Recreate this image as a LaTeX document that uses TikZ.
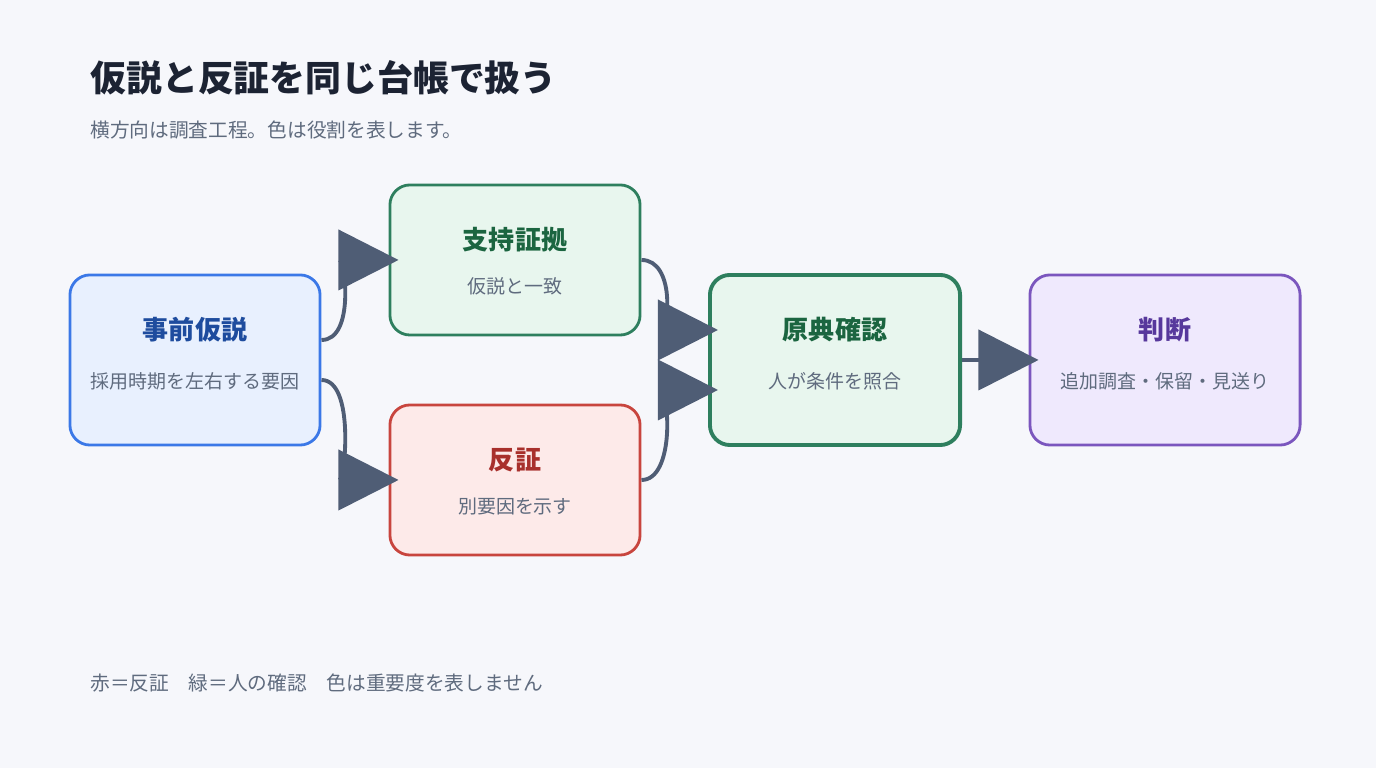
\documentclass[tikz,border=0pt]{standalone}
\usepackage{fontspec}
\setmainfont{Noto Sans CJK JP}
\usetikzlibrary{arrows.meta,positioning,calc}
\definecolor{bg}{HTML}{F6F7FB}
\definecolor{ink}{HTML}{1C2333}
\definecolor{muted}{HTML}{5F6B7E}
\definecolor{edge}{HTML}{4F5D75}
\definecolor{bluel}{HTML}{3B78E7}
\definecolor{bluef}{HTML}{E8F0FE}
\definecolor{bluet}{HTML}{1E4C9E}
\definecolor{greenl}{HTML}{2E7F5E}
\definecolor{greenf}{HTML}{E8F6EE}
\definecolor{greent}{HTML}{1B6540}
\definecolor{redl}{HTML}{C8453E}
\definecolor{redf}{HTML}{FDEAE9}
\definecolor{redt}{HTML}{A8302C}
\definecolor{purpl}{HTML}{7B56BE}
\definecolor{purpf}{HTML}{EFE9FD}
\definecolor{purpt}{HTML}{57389C}
\begin{document}
\begin{tikzpicture}[
    x=0.01cm, y=-0.01cm,
    box/.style={rectangle, rounded corners=0.2cm, line width=0.8pt, minimum width=2.5cm, minimum height=1.7cm, align=center, inner sep=0pt},
    head/.style={font=\fontsize{7.4}{9}\selectfont\bfseries},
    sub/.style={font=\fontsize{5.4}{7}\selectfont, text=muted},
    arrow/.style={-{Triangle[length=0.6cm, width=0.6cm]}, draw=edge, line width=1.1pt}
]
    \fill[bg] (0,0) rectangle (1376,768);
    \node[anchor=west, text=ink, font=\fontsize{10.2}{12}\selectfont\bfseries] (title) at (78,78) {仮説と反証を同じ台帳で扱う};
    \node[anchor=west, font=\fontsize{5.6}{7}\selectfont, text=muted] (subtitle) at (78,130) {横方向は調査工程。色は役割を表します。};
    \node[anchor=west, font=\fontsize{5.6}{7}\selectfont, text=muted] (legend) at (78,683) {赤＝反証　緑＝人の確認　色は重要度を表しません};

    \node[box, draw=bluel, fill=bluef] (prior) at (195,360) {};
    \node[box, draw=greenl, fill=greenf, minimum height=1.5cm] (support) at (515,260) {};
    \node[box, draw=redl, fill=redf, minimum height=1.5cm] (counter) at (515,480) {};
    \node[box, draw=greenl, fill=greenf, line width=1.1pt] (check) at (835,360) {};
    \node[box, draw=purpl, fill=purpf, minimum width=2.7cm] (judge) at (1165,360) {};

    \node[head, text=bluet] at (195,330) {事前仮説};
    \node[sub] at (195,381) {採用時期を左右する要因};
    \node[head, text=greent] at (515,240) {支持証拠};
    \node[sub] at (515,286) {仮説と一致};
    \node[head, text=redt] at (515,460) {反証};
    \node[sub] at (515,506) {別要因を示す};
    \node[head, text=greent] at (835,330) {原典確認};
    \node[sub] at (835,381) {人が条件を照合};
    \node[head, text=purpt] at (1165,330) {判断};
    \node[sub] at (1165,381) {追加調査・保留・見送り};

    \coordinate (p1) at ($(prior.east)+(0,-20)$);
    \coordinate (p2) at ($(prior.east)+(0,20)$);
    \coordinate (c1) at ($(check.west)+(10,-30)$);
    \coordinate (c2) at ($(check.west)+(10,30)$);
    \draw[arrow] (p1) .. controls (355,340) and (345,260) .. ($(support.west)+(10,0)$);
    \draw[arrow] (p2) .. controls (355,380) and (345,480) .. ($(counter.west)+(10,0)$);
    \draw[arrow] (support.east) .. controls (675,260) and (670,330) .. (c1);
    \draw[arrow] (counter.east) .. controls (675,480) and (670,390) .. (c2);
    \draw[arrow] (check.east) -- ($(judge.west)+(10,0)$);
\end{tikzpicture}
\end{document}
